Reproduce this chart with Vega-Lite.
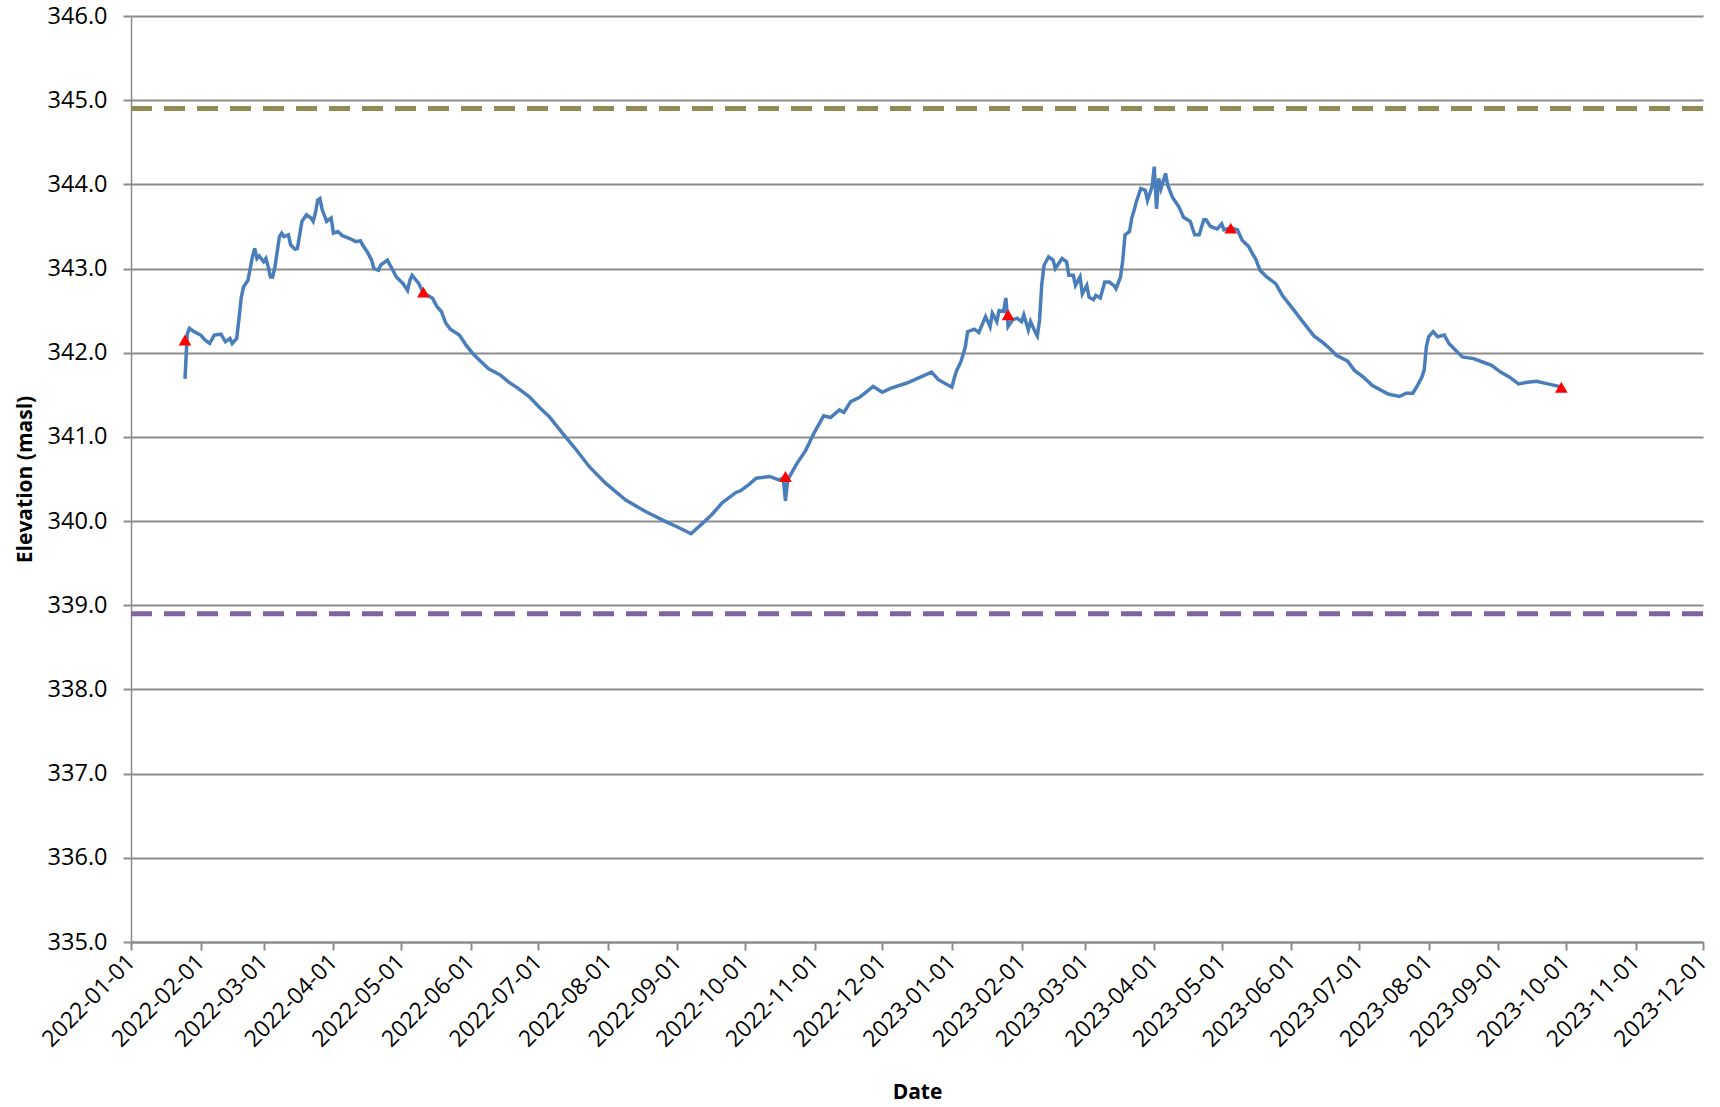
{
  "$schema": "https://vega.github.io/schema/vega-lite/v6.json",
  "width": 1572,
  "height": 926,
  "autosize": "none",
  "padding": {"left": 131, "top": 16, "right": 17, "bottom": 165},
  "background": "white",
  "config": {
    "view": {"stroke": null},
    "font": "Open Sans",
    "axis": {"labelFont": "Open Sans", "titleFont": "Open Sans", "labelColor": "#000000", "titleColor": "#000000"}
  },
  "datasets": {
    "series": [
      {"date": "2022-01-25", "elev": 341.69},
      {"date": "2022-01-26", "elev": 342.22},
      {"date": "2022-01-27", "elev": 342.29},
      {"date": "2022-01-29", "elev": 342.25},
      {"date": "2022-02-01", "elev": 342.21},
      {"date": "2022-02-03", "elev": 342.15},
      {"date": "2022-02-05", "elev": 342.11},
      {"date": "2022-02-07", "elev": 342.21},
      {"date": "2022-02-10", "elev": 342.22},
      {"date": "2022-02-12", "elev": 342.13},
      {"date": "2022-02-14", "elev": 342.17},
      {"date": "2022-02-15", "elev": 342.11},
      {"date": "2022-02-17", "elev": 342.17},
      {"date": "2022-02-18", "elev": 342.4},
      {"date": "2022-02-19", "elev": 342.65},
      {"date": "2022-02-20", "elev": 342.78},
      {"date": "2022-02-22", "elev": 342.86},
      {"date": "2022-02-23", "elev": 343.0},
      {"date": "2022-02-24", "elev": 343.14},
      {"date": "2022-02-25", "elev": 343.24},
      {"date": "2022-02-26", "elev": 343.12},
      {"date": "2022-02-27", "elev": 343.15},
      {"date": "2022-03-01", "elev": 343.08},
      {"date": "2022-03-02", "elev": 343.12},
      {"date": "2022-03-03", "elev": 343.02},
      {"date": "2022-03-04", "elev": 342.9},
      {"date": "2022-03-05", "elev": 342.9},
      {"date": "2022-03-06", "elev": 343.02},
      {"date": "2022-03-07", "elev": 343.2},
      {"date": "2022-03-08", "elev": 343.38},
      {"date": "2022-03-09", "elev": 343.42},
      {"date": "2022-03-10", "elev": 343.38},
      {"date": "2022-03-12", "elev": 343.4},
      {"date": "2022-03-13", "elev": 343.28},
      {"date": "2022-03-15", "elev": 343.23},
      {"date": "2022-03-16", "elev": 343.24},
      {"date": "2022-03-17", "elev": 343.4},
      {"date": "2022-03-18", "elev": 343.56},
      {"date": "2022-03-20", "elev": 343.64},
      {"date": "2022-03-22", "elev": 343.6},
      {"date": "2022-03-23", "elev": 343.56},
      {"date": "2022-03-24", "elev": 343.66},
      {"date": "2022-03-25", "elev": 343.81},
      {"date": "2022-03-26", "elev": 343.83},
      {"date": "2022-03-27", "elev": 343.7},
      {"date": "2022-03-29", "elev": 343.56},
      {"date": "2022-03-30", "elev": 343.58},
      {"date": "2022-03-31", "elev": 343.6},
      {"date": "2022-04-01", "elev": 343.42},
      {"date": "2022-04-03", "elev": 343.44},
      {"date": "2022-04-05", "elev": 343.39},
      {"date": "2022-04-08", "elev": 343.36},
      {"date": "2022-04-11", "elev": 343.32},
      {"date": "2022-04-13", "elev": 343.33},
      {"date": "2022-04-14", "elev": 343.28},
      {"date": "2022-04-16", "elev": 343.2},
      {"date": "2022-04-18", "elev": 343.1},
      {"date": "2022-04-19", "elev": 343.0},
      {"date": "2022-04-21", "elev": 342.98},
      {"date": "2022-04-22", "elev": 343.04},
      {"date": "2022-04-25", "elev": 343.1},
      {"date": "2022-04-27", "elev": 343.0},
      {"date": "2022-04-29", "elev": 342.9},
      {"date": "2022-05-02", "elev": 342.82},
      {"date": "2022-05-04", "elev": 342.74},
      {"date": "2022-05-05", "elev": 342.86},
      {"date": "2022-05-06", "elev": 342.92},
      {"date": "2022-05-09", "elev": 342.82},
      {"date": "2022-05-11", "elev": 342.71},
      {"date": "2022-05-15", "elev": 342.65},
      {"date": "2022-05-17", "elev": 342.55},
      {"date": "2022-05-19", "elev": 342.49},
      {"date": "2022-05-21", "elev": 342.35},
      {"date": "2022-05-23", "elev": 342.28},
      {"date": "2022-05-27", "elev": 342.21},
      {"date": "2022-05-30", "elev": 342.09},
      {"date": "2022-06-02", "elev": 341.99},
      {"date": "2022-06-05", "elev": 341.91},
      {"date": "2022-06-09", "elev": 341.81},
      {"date": "2022-06-14", "elev": 341.74},
      {"date": "2022-06-18", "elev": 341.65},
      {"date": "2022-06-22", "elev": 341.58},
      {"date": "2022-06-27", "elev": 341.48},
      {"date": "2022-07-02", "elev": 341.34},
      {"date": "2022-07-06", "elev": 341.24},
      {"date": "2022-07-12", "elev": 341.04},
      {"date": "2022-07-17", "elev": 340.88},
      {"date": "2022-07-24", "elev": 340.64},
      {"date": "2022-07-31", "elev": 340.45},
      {"date": "2022-08-09", "elev": 340.25},
      {"date": "2022-08-18", "elev": 340.11},
      {"date": "2022-08-27", "elev": 339.99},
      {"date": "2022-09-01", "elev": 339.93},
      {"date": "2022-09-07", "elev": 339.85},
      {"date": "2022-09-12", "elev": 339.97},
      {"date": "2022-09-16", "elev": 340.07},
      {"date": "2022-09-21", "elev": 340.22},
      {"date": "2022-09-27", "elev": 340.34},
      {"date": "2022-09-29", "elev": 340.36},
      {"date": "2022-10-03", "elev": 340.44},
      {"date": "2022-10-06", "elev": 340.51},
      {"date": "2022-10-12", "elev": 340.53},
      {"date": "2022-10-16", "elev": 340.49},
      {"date": "2022-10-18", "elev": 340.51},
      {"date": "2022-10-19", "elev": 340.24},
      {"date": "2022-10-20", "elev": 340.49},
      {"date": "2022-10-24", "elev": 340.68},
      {"date": "2022-10-28", "elev": 340.84},
      {"date": "2022-11-01", "elev": 341.06},
      {"date": "2022-11-05", "elev": 341.25},
      {"date": "2022-11-08", "elev": 341.23},
      {"date": "2022-11-12", "elev": 341.32},
      {"date": "2022-11-14", "elev": 341.29},
      {"date": "2022-11-17", "elev": 341.42},
      {"date": "2022-11-21", "elev": 341.47},
      {"date": "2022-11-27", "elev": 341.6},
      {"date": "2022-12-01", "elev": 341.53},
      {"date": "2022-12-05", "elev": 341.58},
      {"date": "2022-12-12", "elev": 341.64},
      {"date": "2022-12-18", "elev": 341.71},
      {"date": "2022-12-23", "elev": 341.77},
      {"date": "2022-12-26", "elev": 341.68},
      {"date": "2023-01-01", "elev": 341.59},
      {"date": "2023-01-02", "elev": 341.69},
      {"date": "2023-01-03", "elev": 341.78},
      {"date": "2023-01-05", "elev": 341.89},
      {"date": "2023-01-07", "elev": 342.07},
      {"date": "2023-01-08", "elev": 342.25},
      {"date": "2023-01-11", "elev": 342.28},
      {"date": "2023-01-13", "elev": 342.24},
      {"date": "2023-01-16", "elev": 342.43},
      {"date": "2023-01-18", "elev": 342.31},
      {"date": "2023-01-19", "elev": 342.47},
      {"date": "2023-01-21", "elev": 342.37},
      {"date": "2023-01-22", "elev": 342.5},
      {"date": "2023-01-24", "elev": 342.49},
      {"date": "2023-01-25", "elev": 342.65},
      {"date": "2023-01-26", "elev": 342.31},
      {"date": "2023-01-28", "elev": 342.39},
      {"date": "2023-01-30", "elev": 342.41},
      {"date": "2023-02-01", "elev": 342.37},
      {"date": "2023-02-02", "elev": 342.45},
      {"date": "2023-02-04", "elev": 342.27},
      {"date": "2023-02-05", "elev": 342.37},
      {"date": "2023-02-07", "elev": 342.25},
      {"date": "2023-02-08", "elev": 342.2},
      {"date": "2023-02-09", "elev": 342.39},
      {"date": "2023-02-10", "elev": 342.82},
      {"date": "2023-02-11", "elev": 343.04},
      {"date": "2023-02-13", "elev": 343.14},
      {"date": "2023-02-15", "elev": 343.1},
      {"date": "2023-02-16", "elev": 343.0},
      {"date": "2023-02-19", "elev": 343.12},
      {"date": "2023-02-21", "elev": 343.08},
      {"date": "2023-02-22", "elev": 342.92},
      {"date": "2023-02-24", "elev": 342.92},
      {"date": "2023-02-25", "elev": 342.8},
      {"date": "2023-02-27", "elev": 342.9},
      {"date": "2023-02-28", "elev": 342.7},
      {"date": "2023-03-02", "elev": 342.8},
      {"date": "2023-03-03", "elev": 342.66},
      {"date": "2023-03-05", "elev": 342.63},
      {"date": "2023-03-06", "elev": 342.68},
      {"date": "2023-03-08", "elev": 342.65},
      {"date": "2023-03-10", "elev": 342.84},
      {"date": "2023-03-12", "elev": 342.84},
      {"date": "2023-03-14", "elev": 342.8},
      {"date": "2023-03-15", "elev": 342.76},
      {"date": "2023-03-17", "elev": 342.9},
      {"date": "2023-03-18", "elev": 343.1},
      {"date": "2023-03-19", "elev": 343.4},
      {"date": "2023-03-21", "elev": 343.44},
      {"date": "2023-03-22", "elev": 343.6},
      {"date": "2023-03-23", "elev": 343.69},
      {"date": "2023-03-24", "elev": 343.79},
      {"date": "2023-03-26", "elev": 343.95},
      {"date": "2023-03-28", "elev": 343.93},
      {"date": "2023-03-29", "elev": 343.81},
      {"date": "2023-03-31", "elev": 343.97},
      {"date": "2023-04-01", "elev": 344.21},
      {"date": "2023-04-02", "elev": 343.71},
      {"date": "2023-04-03", "elev": 344.07},
      {"date": "2023-04-04", "elev": 343.95},
      {"date": "2023-04-06", "elev": 344.13},
      {"date": "2023-04-07", "elev": 343.99},
      {"date": "2023-04-09", "elev": 343.85},
      {"date": "2023-04-12", "elev": 343.73},
      {"date": "2023-04-14", "elev": 343.61},
      {"date": "2023-04-17", "elev": 343.56},
      {"date": "2023-04-19", "elev": 343.4},
      {"date": "2023-04-21", "elev": 343.4},
      {"date": "2023-04-23", "elev": 343.58},
      {"date": "2023-04-24", "elev": 343.58},
      {"date": "2023-04-26", "elev": 343.5},
      {"date": "2023-04-29", "elev": 343.47},
      {"date": "2023-05-01", "elev": 343.53},
      {"date": "2023-05-02", "elev": 343.46},
      {"date": "2023-05-05", "elev": 343.48},
      {"date": "2023-05-08", "elev": 343.46},
      {"date": "2023-05-10", "elev": 343.34},
      {"date": "2023-05-13", "elev": 343.26},
      {"date": "2023-05-15", "elev": 343.16},
      {"date": "2023-05-16", "elev": 343.12},
      {"date": "2023-05-18", "elev": 342.98},
      {"date": "2023-05-21", "elev": 342.9},
      {"date": "2023-05-25", "elev": 342.82},
      {"date": "2023-05-28", "elev": 342.68},
      {"date": "2023-06-02", "elev": 342.51},
      {"date": "2023-06-06", "elev": 342.37},
      {"date": "2023-06-11", "elev": 342.2},
      {"date": "2023-06-15", "elev": 342.12},
      {"date": "2023-06-18", "elev": 342.05},
      {"date": "2023-06-21", "elev": 341.97},
      {"date": "2023-06-26", "elev": 341.9},
      {"date": "2023-06-29", "elev": 341.79},
      {"date": "2023-07-03", "elev": 341.71},
      {"date": "2023-07-07", "elev": 341.61},
      {"date": "2023-07-14", "elev": 341.51},
      {"date": "2023-07-19", "elev": 341.48},
      {"date": "2023-07-22", "elev": 341.52},
      {"date": "2023-07-25", "elev": 341.52},
      {"date": "2023-07-27", "elev": 341.61},
      {"date": "2023-07-29", "elev": 341.71},
      {"date": "2023-07-30", "elev": 341.79},
      {"date": "2023-07-31", "elev": 342.07},
      {"date": "2023-08-01", "elev": 342.19},
      {"date": "2023-08-03", "elev": 342.25},
      {"date": "2023-08-05", "elev": 342.19},
      {"date": "2023-08-08", "elev": 342.21},
      {"date": "2023-08-10", "elev": 342.11},
      {"date": "2023-08-13", "elev": 342.03},
      {"date": "2023-08-16", "elev": 341.95},
      {"date": "2023-08-21", "elev": 341.93},
      {"date": "2023-08-25", "elev": 341.89},
      {"date": "2023-08-29", "elev": 341.85},
      {"date": "2023-09-02", "elev": 341.77},
      {"date": "2023-09-06", "elev": 341.71},
      {"date": "2023-09-10", "elev": 341.63},
      {"date": "2023-09-14", "elev": 341.65},
      {"date": "2023-09-18", "elev": 341.66},
      {"date": "2023-09-23", "elev": 341.63},
      {"date": "2023-09-28", "elev": 341.6},
      {"date": "2023-09-29", "elev": 341.59}
    ],
    "manual": [
      {"date": "2022-01-25", "elev": 342.15},
      {"date": "2022-05-11", "elev": 342.72},
      {"date": "2022-10-19", "elev": 340.53},
      {"date": "2023-01-26", "elev": 342.45},
      {"date": "2023-05-05", "elev": 343.48},
      {"date": "2023-09-29", "elev": 341.59}
    ],
    "limits": [
      {"kind": "upper", "elev": 344.9},
      {"kind": "lower", "elev": 338.9}
    ]
  },
  "encoding": {
    "x": {
      "field": "date",
      "type": "temporal",
      "title": "Date",
      "scale": {
        "type": "utc",
        "domain": [
          {"year": 2022, "month": 1, "date": 1, "utc": true},
          {"year": 2023, "month": 12, "date": 1, "utc": true}
        ]
      },
      "axis": {
        "values": [
          {"year": 2022, "month": 1, "date": 1, "utc": true},
          {"year": 2022, "month": 2, "date": 1, "utc": true},
          {"year": 2022, "month": 3, "date": 1, "utc": true},
          {"year": 2022, "month": 4, "date": 1, "utc": true},
          {"year": 2022, "month": 5, "date": 1, "utc": true},
          {"year": 2022, "month": 6, "date": 1, "utc": true},
          {"year": 2022, "month": 7, "date": 1, "utc": true},
          {"year": 2022, "month": 8, "date": 1, "utc": true},
          {"year": 2022, "month": 9, "date": 1, "utc": true},
          {"year": 2022, "month": 10, "date": 1, "utc": true},
          {"year": 2022, "month": 11, "date": 1, "utc": true},
          {"year": 2022, "month": 12, "date": 1, "utc": true},
          {"year": 2023, "month": 1, "date": 1, "utc": true},
          {"year": 2023, "month": 2, "date": 1, "utc": true},
          {"year": 2023, "month": 3, "date": 1, "utc": true},
          {"year": 2023, "month": 4, "date": 1, "utc": true},
          {"year": 2023, "month": 5, "date": 1, "utc": true},
          {"year": 2023, "month": 6, "date": 1, "utc": true},
          {"year": 2023, "month": 7, "date": 1, "utc": true},
          {"year": 2023, "month": 8, "date": 1, "utc": true},
          {"year": 2023, "month": 9, "date": 1, "utc": true},
          {"year": 2023, "month": 10, "date": 1, "utc": true},
          {"year": 2023, "month": 11, "date": 1, "utc": true},
          {"year": 2023, "month": 12, "date": 1, "utc": true}
        ],
        "format": "%Y-%m-%d",
        "labelAngle": -45,
        "labelAlign": "right",
        "labelBaseline": "middle",
        "labelFontSize": 23,
        "labelPadding": 8,
        "labelOverlap": false,
        "labelFlush": false,
        "grid": false,
        "domainColor": "#8c8c8c",
        "domainWidth": 2,
        "tickColor": "#8c8c8c",
        "tickWidth": 2,
        "tickSize": 8,
        "titleFontSize": 21,
        "titleFontWeight": "bold",
        "titlePadding": 30
      }
    },
    "y": {
      "field": "elev",
      "type": "quantitative",
      "title": "Elevation (masl)",
      "scale": {"domain": [335, 346], "nice": false, "zero": false},
      "axis": {
        "values": [335, 336, 337, 338, 339, 340, 341, 342, 343, 344, 345, 346],
        "format": ".1f",
        "labelFontSize": 23.5,
        "labelPadding": 16,
        "grid": true,
        "gridColor": "#8c8c8c",
        "gridWidth": 2,
        "domainColor": "#8c8c8c",
        "domainWidth": 1.5,
        "tickColor": "#8c8c8c",
        "tickWidth": 2,
        "tickSize": 8,
        "titleFontSize": 21,
        "titleFontWeight": "bold",
        "titlePadding": 12
      }
    }
  },
  "layer": [
    {
      "data": {"name": "limits"},
      "mark": {"type": "rule", "strokeWidth": 5, "strokeDash": [21, 12]},
      "encoding": {
        "x": null,
        "y": {"field": "elev", "type": "quantitative"},
        "color": {
          "field": "kind",
          "type": "nominal",
          "scale": {"domain": ["upper", "lower"], "range": ["#948A54", "#8064A2"]},
          "legend": null
        }
      }
    },
    {
      "data": {"name": "series"},
      "mark": {"type": "line", "color": "#4A7EBB", "strokeWidth": 3.5, "interpolate": "linear"}
    },
    {
      "data": {"name": "manual"},
      "mark": {"type": "point", "shape": "triangle-up", "filled": true, "color": "#FF0000", "opacity": 1, "size": 160}
    }
  ]
}
